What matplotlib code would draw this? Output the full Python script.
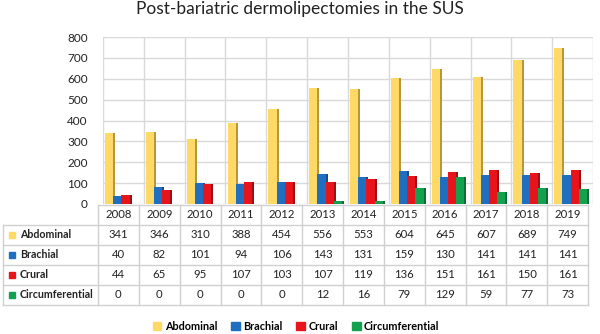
import numpy as np
import matplotlib.pyplot as plt
from matplotlib.patches import Rectangle

years = ["2008", "2009", "2010", "2011", "2012", "2013", "2014", "2015", "2016", "2017", "2018", "2019"]
series_names = ["Abdominal", "Brachial", "Crural", "Circumferential"]
abdominal = [341, 346, 310, 388, 454, 556, 553, 604, 645, 607, 689, 749]
brachial = [40, 82, 101, 94, 106, 143, 131, 159, 130, 141, 141, 141]
crural = [44, 65, 95, 107, 103, 107, 119, 136, 151, 161, 150, 161]
circumferential = [0, 0, 0, 0, 0, 12, 16, 79, 129, 59, 77, 73]

colors = ["#FFD966", "#1F6EBF", "#E8141B", "#13A150"]
dark = ["#B8963A", "#154E88", "#9E0E12", "#0C6E36"]

plt.rcParams['font.family'] = ['Lato', 'DejaVu Sans']

W, H = 600, 334
fig = plt.figure(figsize=(6, 3.34), dpi=100)

# main chart
px0, px1, py0, py1 = 103, 593, 204, 37
ax = fig.add_axes([px0 / W, 1 - py0 / H, (px1 - px0) / W, (py0 - py1) / H])
ax.set_xlim(-0.5, len(years) - 0.5)
ax.set_ylim(0, 800)
ax.set_yticks(np.arange(0, 801, 100))
ax.set_xticks([])
ax.tick_params(axis='y', length=0, labelsize=8.5, pad=11, colors='#222222')
for s in ax.spines.values():
    s.set_visible(False)
ax.grid(axis='y', color='#D9D9D9', linewidth=1)
for b in np.arange(-0.5, len(years), 1):
    ax.axvline(b, color='#D9D9D9', linewidth=1, zorder=0)
ax.set_axisbelow(True)

x = np.arange(len(years))
w = 0.2
data = [abdominal, brachial, crural, circumferential]
for k, vals in enumerate(data):
    pos = x - 0.35 + w * k
    # dark side for a bit of depth
    ax.bar(pos + 0.05, vals, width=w, color=dark[k], zorder=2 + k * 2)
    ax.bar(pos, vals, width=w, color=colors[k], zorder=3 + k * 2)

fig.text(0.5, 1 - 9 / H, "Post-bariatric dermolipectomies in the SUS", fontsize=12.5,
         color='#222222', ha='center', va='center')

# data table drawn in pixel coordinates
tab = fig.add_axes([0, 0, 1, 1])
tab.set_xlim(0, W)
tab.set_ylim(H, 0)
tab.axis('off')
lc = '#D0D0D0'
t_left, t_lab, t_right = 3, 98, 588
col_w = (t_right - t_lab) / len(years)
row_top = [205, 225, 245, 265, 285, 305]
# horizontal lines
tab.plot([t_lab, t_right], [row_top[0], row_top[0]], color=lc, lw=1)
for yy in row_top[1:]:
    tab.plot([t_left, t_right], [yy, yy], color=lc, lw=1)
# vertical lines
tab.plot([t_left, t_left], [row_top[1], row_top[-1]], color=lc, lw=1)
for i in range(len(years) + 1):
    xx = t_lab + i * col_w
    tab.plot([xx, xx], [row_top[0], row_top[-1]], color=lc, lw=1)
for i, yr in enumerate(years):
    tab.text(t_lab + (i + 0.5) * col_w, (row_top[0] + row_top[1]) / 2, yr,
             ha='center', va='center', fontsize=8.2, color='#222222')
for r, (name, vals) in enumerate(zip(series_names, data)):
    yc = (row_top[r + 1] + row_top[r + 2]) / 2
    tab.add_patch(Rectangle((9, yc - 3), 6, 6, color=colors[r]))
    tab.text(20, yc, name, ha='left', va='center', fontsize=7.7,
             fontweight='bold', color='#222222')
    for i, v in enumerate(vals):
        tab.text(t_lab + (i + 0.5) * col_w, yc, str(v), ha='center',
                 va='center', fontsize=8.2, color='#222222')

handles = [Rectangle((0, 0), 1, 1, color=c) for c in colors]
fig.legend(handles, series_names, loc='center', bbox_to_anchor=(296 / W, 1 - 326 / H),
           ncol=4, frameon=False, handlelength=0.8, handleheight=0.8,
           handletextpad=0.3, columnspacing=1.3, prop={'weight': 'bold', 'size': 7.8})

fig.savefig("out.png", dpi=100)
